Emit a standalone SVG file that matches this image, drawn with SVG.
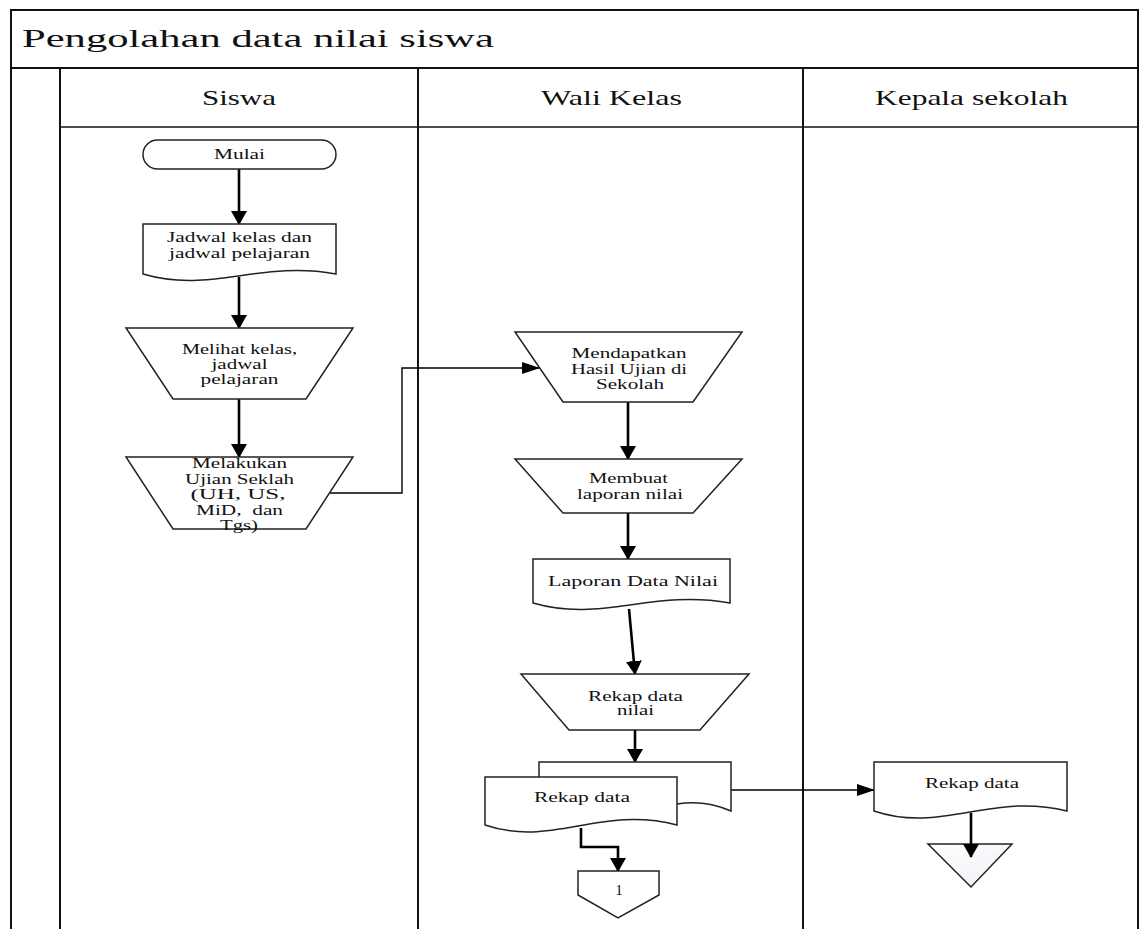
<svg xmlns="http://www.w3.org/2000/svg" width="1144" height="929" viewBox="0 0 1144 929">
<style>
text{font-family:"Liberation Serif","Times New Roman",serif;fill:#111}
.t{font-size:15px;text-anchor:middle}
.h{font-size:21px;text-anchor:middle}
.ttl{font-size:26px}
.frame{stroke:#111;stroke-width:2;fill:none}
.shape{fill:#fff;stroke:#222;stroke-width:1.5}
.arr{fill:none;stroke:#000;stroke-width:2.6}
.thin{fill:none;stroke:#000;stroke-width:1.4}
</style>
<defs>
<marker id="ah" markerUnits="userSpaceOnUse" markerWidth="14" markerHeight="16" viewBox="0 0 14 16" refX="13" refY="8" orient="auto">
<path d="M0,0 L14,8 L0,16 Z" fill="#000"/>
</marker>
<marker id="ahs" markerUnits="userSpaceOnUse" markerWidth="18" markerHeight="12" viewBox="0 0 18 12" refX="17" refY="6" orient="auto">
<path d="M0,0 L18,6 L0,12 Z" fill="#000"/>
</marker>
<linearGradient id="tri" x1="0" y1="0" x2="1" y2="1">
<stop offset="0" stop-color="#ffffff"/>
<stop offset="1" stop-color="#eef0f6"/>
</linearGradient>
</defs>

<g id="frame">
<rect x="0" y="0" width="1144" height="929" fill="#fff"/>
<path class="frame" d="M11,929 V10 H1138 V929"/>
<path class="frame" d="M11,68 H1138"/>
<path class="frame" d="M60,127 H1138" style="stroke-width:1.6"/>
<path class="frame" d="M60,68 V929 M418,68 V929 M803,68 V929"/>
<text class="ttl" x="22" y="47" textLength="472" lengthAdjust="spacingAndGlyphs">Pengolahan data nilai siswa</text>
<text class="h" x="239" y="105" textLength="74" lengthAdjust="spacingAndGlyphs">Siswa</text>
<text class="h" x="611.5" y="105" textLength="141" lengthAdjust="spacingAndGlyphs">Wali Kelas</text>
<text class="h" x="971.5" y="105" textLength="193" lengthAdjust="spacingAndGlyphs">Kepala sekolah</text>
</g>

<g id="connectors">
<path class="arr" d="M239,169 V224" marker-end="url(#ah)"/>
<path class="arr" d="M239,277 V328" marker-end="url(#ah)"/>
<path class="arr" d="M239,399 V457" marker-end="url(#ah)"/>
<path class="thin" d="M330,493 H402 V368 H539" marker-end="url(#ahs)"/>
<path class="arr" d="M628,402 V459" marker-end="url(#ah)"/>
<path class="arr" d="M628,513 V559" marker-end="url(#ah)"/>
<path class="arr" d="M629,609 L635,674" marker-end="url(#ah)"/>
<path class="arr" d="M635,730 V762" marker-end="url(#ah)"/>
<path class="thin" d="M731,790 H874" marker-end="url(#ahs)"/>
<path class="arr" d="M581,828 V847 H618 V871" marker-end="url(#ah)"/>
</g>

<g id="mulai">
<rect class="shape" x="143" y="140" width="193" height="29" rx="14.5"/>
<text class="t" x="239.5" y="159" textLength="51" lengthAdjust="spacingAndGlyphs">Mulai</text>
</g>

<g id="jadwal">
<path class="shape" d="M143,224 H336 V274 C259,260 211,294 143,274 Z"/>
<text class="t" x="239.5" y="242" textLength="145" lengthAdjust="spacingAndGlyphs">Jadwal kelas dan</text>
<text class="t" x="239.5" y="258" textLength="141" lengthAdjust="spacingAndGlyphs">jadwal pelajaran</text>
</g>

<g id="melihat">
<path class="shape" d="M126,328 H353 L306,399 H173 Z"/>
<text class="t" x="239.5" y="354" textLength="115" lengthAdjust="spacingAndGlyphs">Melihat kelas,</text>
<text class="t" x="239.5" y="369" textLength="56" lengthAdjust="spacingAndGlyphs">jadwal</text>
<text class="t" x="239.5" y="384" textLength="78" lengthAdjust="spacingAndGlyphs">pelajaran</text>
</g>

<g id="melakukan">
<path class="shape" d="M126,457 H353 L306,529 H173 Z"/>
<text class="t" x="239.5" y="468" textLength="95" lengthAdjust="spacingAndGlyphs">Melakukan</text>
<text class="t" x="239.5" y="484" textLength="109" lengthAdjust="spacingAndGlyphs">Ujian Seklah</text>
<text class="t" x="238" y="499" textLength="95" lengthAdjust="spacingAndGlyphs">(UH, US,</text>
<text class="t" x="239.5" y="515" textLength="87" lengthAdjust="spacingAndGlyphs" style="white-space:pre">MiD,  dan</text>
<text class="t" x="239" y="530" textLength="38" lengthAdjust="spacingAndGlyphs">Tgs)</text>
</g>

<g id="mendapatkan">
<path class="shape" d="M515,332 H742 L693,402 H563 Z"/>
<text class="t" x="629" y="358" textLength="115" lengthAdjust="spacingAndGlyphs">Mendapatkan</text>
<text class="t" x="629" y="374" textLength="116" lengthAdjust="spacingAndGlyphs">Hasil Ujian di</text>
<text class="t" x="630" y="389" textLength="68" lengthAdjust="spacingAndGlyphs">Sekolah</text>
</g>

<g id="membuat">
<path class="shape" d="M515,459 H742 L693,513 H563 Z"/>
<text class="t" x="628.5" y="483" textLength="79" lengthAdjust="spacingAndGlyphs">Membuat</text>
<text class="t" x="630" y="499" textLength="106" lengthAdjust="spacingAndGlyphs">laporan nilai</text>
</g>

<g id="laporan">
<path class="shape" d="M533,559 H730 V603 C651,589 602,623 533,603 Z"/>
<text class="t" x="633" y="586" textLength="170" lengthAdjust="spacingAndGlyphs">Laporan Data Nilai</text>
</g>

<g id="rekap-nilai">
<path class="shape" d="M521,674 H749 L700,730 H569 Z"/>
<text class="t" x="635.5" y="701" textLength="95" lengthAdjust="spacingAndGlyphs">Rekap data</text>
<text class="t" x="635.5" y="715" textLength="37" lengthAdjust="spacingAndGlyphs">nilai</text>
</g>

<g id="rekap-data-multi">
<path class="shape" d="M539,777 V762 H731 V811 C715,804 695,801 677,804"/>
<path class="shape" d="M485,777 H677 V825 C600,805 552,848 485,825 Z"/>
<text class="t" x="582" y="802" textLength="96" lengthAdjust="spacingAndGlyphs">Rekap data</text>
</g>

<g id="offpage-1">
<path class="shape" d="M578,871 H659 V895 L618,918 L578,895 Z"/>
<text class="t" x="619" y="895">1</text>
</g>

<g id="rekap-data-kepsek">
<path class="shape" d="M874,762 H1067 V811 C990,792 942,834 874,811 Z"/>
<text class="t" x="972" y="788" textLength="94" lengthAdjust="spacingAndGlyphs">Rekap data</text>
</g>

<g id="arsip">
<path d="M928,844 H1012 L971,887 Z" fill="url(#tri)" stroke="#222" stroke-width="1.5"/>
<path class="arr" d="M971,813 V857" marker-end="url(#ah)"/>
</g>
</svg>
